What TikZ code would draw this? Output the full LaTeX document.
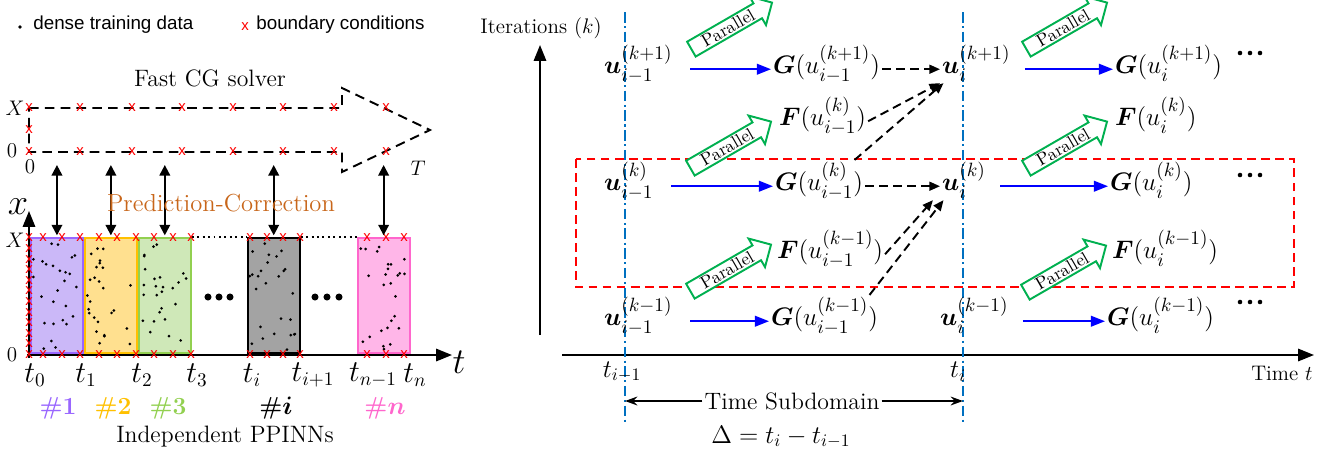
\documentclass[tikz,border=0pt]{standalone}
\usepackage{amsmath}
\usepackage{fontspec}
\newfontfamily\fuenteLeyenda{Liberation Sans}
\usetikzlibrary{arrows.meta, positioning, shapes.arrows, calc}
\definecolor{moradoPinn}{HTML}{9966FF}
\definecolor{moradoClaro}{HTML}{CBB8F8}
\definecolor{amarilloPinn}{HTML}{FFC000}
\definecolor{amarilloClaro}{HTML}{FFE08F}
\definecolor{verdePinn}{HTML}{92D050}
\definecolor{verdeClaro}{HTML}{CFE8B8}
\definecolor{grisPinn}{HTML}{A3A3A3}
\definecolor{rosaPinn}{HTML}{FF66CC}
\definecolor{rosaClaro}{HTML}{FFB6E8}
\definecolor{naranjaTexto}{HTML}{C8661A}
\definecolor{azulLinea}{HTML}{0070C0}
\definecolor{verdeFlecha}{HTML}{00B050}
\tikzset{
  leyenda/.style={font=\fuenteLeyenda\fontsize{10.7}{12}\selectfont, inner sep=0pt},
  cruz/.style={text=red, font=\fuenteLeyenda\fontsize{8.5}{8.5}\selectfont, inner sep=0pt},
  titulo/.style={font=\fontsize{13.5}{15}\selectfont, inner sep=0pt},
  etiqueta/.style={font=\fontsize{12}{14}\selectfont, inner sep=0pt},
  etiquetaT/.style={font=\fontsize{16}{18}\selectfont, inner sep=0pt},
  etiquetaEje/.style={font=\fontsize{22}{24}\selectfont, inner sep=0pt},
  numero/.style={font=\fontsize{14}{16}\selectfont\bfseries, inner sep=0pt},
  cajaPinn/.style={draw, line width=1.1pt, minimum width=1.04cm,
    minimum height=2.30cm, inner sep=0pt, anchor=south west},
  bordeCG/.style={line width=1.1pt, dash pattern=on 5.5pt off 3.5pt},
  flechaDoble/.style={{Triangle[length=6pt,width=6pt]}-{Triangle[length=6pt,width=6pt]},
    line width=1.1pt},
  eje/.style={-{Triangle[length=9pt,width=7pt]}, line width=1.1pt},
  nodoMat/.style={font=\fontsize{15}{17}\selectfont, inner sep=1pt, anchor=base west},
  flechaAzul/.style={-{Triangle[length=8pt,width=6pt]}, line width=1.1pt, blue},
  flechaPunteada/.style={-{Triangle[length=6pt,width=5pt]}, line width=1.1pt,
    dash pattern=on 5pt off 3pt},
  flechaParalela/.style={single arrow, draw=verdeFlecha, line width=1.1pt, fill=white,
    rotate=30, font=\fontsize{10}{10}\selectfont, inner xsep=1pt, inner ysep=0.8pt,
    minimum height=53pt, single arrow head extend=4.5pt},
  lineaTiempo/.style={azulLinea, line width=1.1pt, dash pattern=on 6pt off 2pt on 1.2pt off 2pt},
  cajaRoja/.style={red, line width=1.1pt, dash pattern=on 5pt off 3pt},
  flechaSub/.style={-{Stealth[length=7pt,width=5pt]}, line width=1.1pt},
}

\begin{document}
\begin{tikzpicture}[x=0.02cm, y=-0.02cm]
  \useasboundingbox (0,0) rectangle (1332,458);
  % leyenda
  \fill (20,27) circle[radius=1.1pt];
  \node[leyenda, anchor=west] (leyDatos) at (33,25) {dense training data};
  \node[cruz] (leyCruz) at (245,27) {x};
  \node[leyenda, anchor=west] (leyFrontera) at (256,25) {boundary conditions};

  % solver grueso
  \node[titulo] (tituloCG) at (210,78) {Fast CG solver};
  \draw[bordeCG] (29,108) -- (342,108) -- (342,88) -- (430,130) -- (342,172)
    -- (342,152) -- (29,152) -- cycle;
  \foreach \x [count=\n] in {29,80,132,182,233,283,334,386} {
    \node[cruz] (cgSup\n) at (\x,108) {x};
    \node[cruz] (cgInf\n) at (\x,152) {x};
  }
  \node[cruz] (cgMed) at (29,130) {x};
  \node[etiqueta] (cgX) at (15,108) {$X$};
  \node[etiqueta] (cgCero) at (12,151) {$0$};
  \node[etiqueta] (cgCeroT) at (30,167) {$0$};
  \node[etiqueta] (cgT) at (418,168) {$T$};

  % PINNs independientes
  \node[cajaPinn, draw=moradoPinn, fill=moradoClaro] (p1) at (30,354) {};
  \node[cajaPinn, draw=amarilloPinn, fill=amarilloClaro, right=0pt of p1] (p2) {};
  \node[cajaPinn, draw=verdePinn, fill=verdeClaro, right=0pt of p2] (p3) {};
  \node[cajaPinn, draw=black, fill=grisPinn, right=1.1cm of p3] (p4) {};
  \node[cajaPinn, draw=rosaPinn, fill=rosaClaro, right=1.12cm of p4] (p5) {};
  \pgfmathsetseed{23}
  \foreach \p in {p1,p2,p3,p4,p5}
    \foreach \k in {1,...,26}
      \fill ($(\p.south west)+({3+rnd*46},{-3-rnd*108})$) circle[radius=0.85pt];
  \draw[dotted, line width=1.1pt] (p3.north east) -- (p4.north west);
  \draw[dotted, line width=1.1pt] (p4.north east) -- (p5.north west);
  \foreach \x in {208,219,230,315,327,339}
    \fill (\x,297) circle[radius=2pt];

  % ejes x-t
  \coordinate (ejeArriba) at (29,211);
  \coordinate (ejeAbajo) at (29,358);
  \coordinate (ejeIzq) at (27,355);
  \coordinate (ejeDer) at (452,355);
  \draw[eje] (ejeAbajo) -- (ejeArriba);
  \draw[eje] (ejeIzq) -- (ejeDer);
  \node[etiquetaEje] (ejeXlbl) at (18,207) {$x$};
  \node[etiquetaEje] (ejeTlbl) at (459,362) {$t$};
  \node[etiqueta] (pX) at (15,240) {$X$};
  \node[etiqueta] (pCero) at (12,355) {$0$};

  % condiciones de frontera
  \foreach \x [count=\n] in {29,43,62,80,99,117,136,154,173,191,250,267,283,300,367,386,404} {
    \node[cruz] (bcSup\n) at (\x,238) {x};
    \node[cruz] (bcInf\n) at (\x,355) {x};
  }
  \foreach \k in {1,...,10}
    \node[cruz] (bcIzq\k) at (29,{238+\k*10.6}) {x};

  % prediccion-correccion
  \coordinate (baseCG) at (0,165);
  \foreach \p in {p1,p2,p3,p4,p5}
    \draw[flechaDoble] (\p.north |- baseCG) -- ([yshift=1pt]\p.north);
  \node[titulo, font=\fontsize{14}{16}\selectfont, text=naranjaTexto] (predCorr) at (221,203) {Prediction-Correction};

  % etiquetas de tiempo
  \foreach \x/\t [count=\n] in {35/t_0, 86/t_1, 142/t_2, 197/t_3, 252/t_i,
      313/t_{i+1}, 373/t_{n-1}, 415/t_n}
    \node[etiquetaT] (tl\n) at (\x,375) {$\t$};
  \node[numero, text=moradoPinn] (num1) at (58,408) {\#1};
  \node[numero, text=amarilloPinn] (num2) at (113,408) {\#2};
  \node[numero, text=verdePinn] (num3) at (168,408) {\#3};
  \node[numero] (numI) at (276,408) {\#$\boldsymbol{i}$};
  \node[numero, text=rosaPinn] (numN) at (385,408) {\#$\boldsymbol{n}$};
  \node[titulo] (indep) at (225,437) {Independent PPINNs};

  % ---- parareal ----
  \coordinate (iterAbajo) at (540,335);
  \coordinate (iterArriba) at (540,45);
  \coordinate (tiempoIzq) at (562,355);
  \coordinate (tiempoDer) at (1314,355);
  \draw[eje] (iterAbajo) -- (iterArriba);
  \draw[eje] (tiempoIzq) -- (tiempoDer);
  \node[etiqueta] (iterLbl) at (541,28) {Iterations $(k)$};
  \node[etiqueta, anchor=east] (tiempoLbl) at (1313,373) {Time $t$};
  \draw[lineaTiempo] (625,12) -- (625,425);
  \draw[lineaTiempo] (963,12) -- (963,425);
  \draw[cajaRoja] (576,159) rectangle (1294,287);
  \node[etiquetaT, font=\fontsize{14}{16}\selectfont] (tA) at (622,372) {$t_{i-1}$};
  \node[etiquetaT, font=\fontsize{14}{16}\selectfont] (tB) at (958,372) {$t_i$};
  \node[etiqueta, font=\fontsize{13.5}{15}\selectfont, fill=white, inner sep=1pt] (subdom) at (792,401) {Time Subdomain};
  \coordinate (subIzq) at (625,401);
  \coordinate (subDer) at (963,401);
  \draw[flechaSub] (subdom) -- (subIzq);
  \draw[flechaSub] (subdom) -- (subDer);
  \node[etiqueta, font=\fontsize{14}{16}\selectfont] (delta) at (781,437) {$\Delta = t_i - t_{i-1}$};

  \node[nodoMat] (uA1) at (602,73) {$\boldsymbol{u}_{i-1}^{(k+1)}$};
  \node[nodoMat] (GA1) at (771,73) {$\boldsymbol{G}(u_{i-1}^{(k+1)})$};
  \node[nodoMat] (FA1) at (777,125) {$\boldsymbol{F}(u_{i-1}^{(k)})$};
  \node[nodoMat] (uA2) at (602,190) {$\boldsymbol{u}_{i-1}^{(k)}$};
  \node[nodoMat] (GA2) at (773,190) {$\boldsymbol{G}(u_{i-1}^{(k)})$};
  \node[nodoMat] (FA2) at (775,258) {$\boldsymbol{F}(u_{i-1}^{(k-1)})$};
  \node[nodoMat] (uA3) at (602,325) {$\boldsymbol{u}_{i-1}^{(k-1)}$};
  \node[nodoMat] (GA3) at (769,325) {$\boldsymbol{G}(u_{i-1}^{(k-1)})$};
  \node[nodoMat] (uB1) at (940,73) {$\boldsymbol{u}_{i}^{(k+1)}$};
  \node[nodoMat] (GB1) at (1113,73) {$\boldsymbol{G}(u_{i}^{(k+1)})$};
  \node[nodoMat] (FB1) at (1113,125) {$\boldsymbol{F}(u_{i}^{(k)})$};
  \node[nodoMat] (uB2) at (940,190) {$\boldsymbol{u}_{i}^{(k)}$};
  \node[nodoMat] (GB2) at (1108,190) {$\boldsymbol{G}(u_{i}^{(k)})$};
  \node[nodoMat] (FB2) at (1110,258) {$\boldsymbol{F}(u_{i}^{(k-1)})$};
  \node[nodoMat] (uB3) at (938,325) {$\boldsymbol{u}_{i}^{(k-1)}$};
  \node[nodoMat] (GB3) at (1105,325) {$\boldsymbol{G}(u_{i}^{(k-1)})$};
  \foreach \y in {53,175,302}
    \foreach \x in {1240,1250,1260}
      \fill (\x,\y) circle[radius=1.3pt];

  % flechas gruesas (G)
  \foreach \a/\b in {uA1/GA1, uA2/GA2, uA3/GA3}
    \draw[flechaAzul, shorten <=9pt] (\a.mid east) -- (\a.mid east -| \b.west);
  \foreach \a/\b in {uB1/GB1, uB2/GB2, uB3/GB3}
    \draw[flechaAzul, shorten <=7pt] (\a.mid east) -- (\a.mid east -| \b.west);
  % flechas paralelas (F)
  \foreach \x/\y [count=\n] in {728/28, 727/147, 727/270, 1063/28, 1063/147, 1062/271}
    \node[flechaParalela] (par\n) at (\x,\y) {Parallel};
  % correccion
  \draw[flechaPunteada] (GA1.mid east) -- (uB1.mid west);
  \draw[flechaPunteada] (FA1.mid east) -- (uB1.south west);
  \draw[flechaPunteada] ([xshift=-6pt]GA2.north east) -- ([xshift=2pt]uB1.south west);
  \draw[flechaPunteada] (GA2.mid east) -- (uB2.mid west);
  \draw[flechaPunteada] (FA2.mid east) -- ([xshift=-4pt]uB2.south west);
  \draw[flechaPunteada] ([xshift=-6pt]GA3.north east) -- ([xshift=2pt]uB2.south west);
\end{tikzpicture}
\end{document}
